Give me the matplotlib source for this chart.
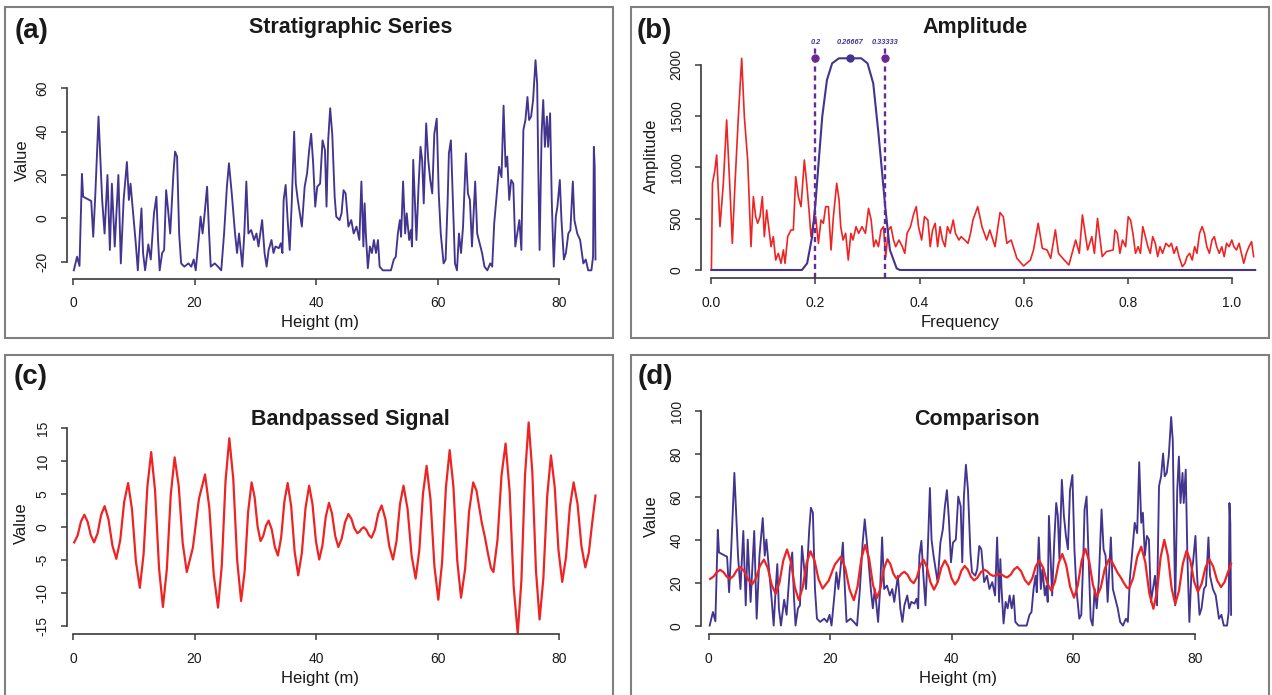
import matplotlib
matplotlib.use('Agg')
import matplotlib.pyplot as plt
from matplotlib.patches import Rectangle

plt.rcParams['font.family'] = ['Liberation Sans', 'DejaVu Sans']
plt.rcParams['axes.unicode_minus'] = False

# ---------------- data ----------------
height_a = [0.13, 0.67, 1.07, 1.47, 1.67, 2.33, 3.0, 3.33, 3.67, 4.2,
            4.8, 5.2, 5.67, 6.07, 6.4, 6.87, 7.47, 7.87, 8.33, 8.87,
            9.2, 9.47, 10.0, 10.33, 10.67, 11.0, 11.27, 11.53, 11.87, 12.4,
            12.8, 13.33, 13.73, 14.0, 14.27, 14.67, 15.0, 15.33, 15.6, 16.0,
            16.53, 16.8, 17.13, 17.47, 17.8, 18.33, 19.0, 19.47, 19.87, 20.2,
            20.67, 21.0, 21.33, 21.67, 22.07, 22.4, 22.67, 23.33, 23.87, 24.4,
            24.87, 25.33, 25.67, 26.13, 26.67, 27.0, 27.33, 27.87, 28.2, 28.53,
            28.87, 29.33, 29.8, 30.2, 30.53, 31.13, 31.53, 31.87, 32.2, 32.67,
            33.0, 33.33, 33.87, 34.2, 34.47, 34.67, 35.0, 35.33, 35.67, 36.0,
            36.4, 36.67, 37.0, 37.33, 37.67, 38.13, 38.53, 38.87, 39.2, 39.53,
            39.87, 40.2, 40.67, 41.07, 41.47, 41.73, 42.0, 42.33, 42.67, 43.07,
            43.33, 43.87, 44.2, 44.53, 44.87, 45.33, 45.8, 46.2, 46.67, 47.13,
            47.47, 47.8, 48.0, 48.2, 48.53, 48.87, 49.2, 49.53, 49.87, 50.2,
            50.47, 51.0, 51.67, 52.33, 52.8, 53.13, 53.47, 53.8, 54.0, 54.33,
            54.67, 54.93, 55.33, 55.6, 55.8, 56.0, 56.27, 56.53, 56.87, 57.2,
            57.47, 57.73, 58.13, 58.47, 58.8, 59.13, 59.47, 59.87, 60.2, 60.53,
            61.0, 61.33, 61.67, 61.87, 62.2, 62.53, 62.87, 63.2, 63.53, 63.87,
            64.2, 64.67, 65.0, 65.33, 65.67, 66.2, 66.53, 66.93, 67.33, 67.73,
            68.2, 68.67, 69.0, 69.33, 69.67, 70.13, 70.53, 70.87, 71.2, 71.47,
            71.8, 72.13, 72.47, 72.8, 73.13, 73.47, 73.8, 74.13, 74.47, 74.8,
            75.07, 75.4, 75.73, 76.13, 76.4, 76.6, 76.8, 77.13, 77.4, 77.67,
            78.0, 78.2, 78.53, 78.8, 79.13, 79.47, 79.73, 80.13, 80.4, 80.8,
            81.13, 81.53, 81.87, 82.27, 82.53, 83.0, 83.47, 84.0, 84.4, 84.8,
            85.33, 85.6, 85.73, 85.87, 86.0]
value_a = [-24, -17.7, -22, 20.5, 10, 9, 8, -8.5, 10.8, 47,
           8.5, -7, 20, -14.6, 16, -13, 20, -20.8, 8.5, 26,
           8.5, 16, -1, -11.5, -24, -7, 4.6, -16, -24, -12,
           -19, 2.3, 10, -10, -24, -16, -14.6, 13, 5.4, -7,
           20.8, 30.8, 28.5, -7, -20.8, -22.3, -20.8, -22.3, -19, -24,
           -10, 0.8, -7, 2.3, 14.6, -7, -22.3, -20.8, -22.3, -24,
           -7, 14.6, 25.4, 11.5, -7, -16, -7, -22.3, -7, 17,
           -7, -5.4, -10, -7, -13, -0.8, -16, -22.3, -14.6, -10,
           -16, -13, -13.8, -11.5, -16, 8.5, 15.4, -0.8, -14.6, 6.9,
           40, 16, 8.5, 2.3, -3.8, 14.6, 20.8, 31.5, 39, 25.4,
           5.4, 14.6, 16, 36, 31.5, 5.4, 36, 50.8, 39, 10,
           0.8, -0.8, 2.3, 13, 11.5, -3.8, -0.8, -7, -3.8, -10,
           17, -13, 6.9, -7, -23, -13, -16, -10, -16, -10,
           -22.3, -24, -24, -24, -19, -17.7, -7, -0.8, -8.5, 17,
           -7, 2.3, -10, -5.4, -13, 27, 8.5, -10, 14.6, 33,
           27, 6.9, 43.8, 27, 17.7, 11.5, 39, 46, 11.5, -7,
           -20.8, -19, 8.5, 30, 36, 8.5, -20.8, -24, -7, -16,
           -3.8, 30, 11.5, 8.5, -13, 17, -7, -11.5, -16, -22.3,
           -24, -20.8, -22.3, -2.3, 8.5, 23.8, 19, 52, 23.8, 28.5,
           8.5, 17.7, 16, -13, -7, -0.8, -14.6, 40.8, 45.4, 56,
           45.4, 47, 54.6, 73, 62, 20.8, -14.6, 39, 54.6, 33,
           47, 33, 48.5, 8.5, -22.3, 0.8, 5.4, 17.7, -0.8, -19,
           -16, -7, -5.4, 17, -0.8, -7, -10, -20.8, -19, -24,
           -24, -17.7, 33, 23.8, -19]

freq_b = [0.0, 0.002, 0.006, 0.0101, 0.0165, 0.0229, 0.0293, 0.0357, 0.0402, 0.0454,
          0.0518, 0.0582, 0.0633, 0.0697, 0.0761, 0.0806, 0.0851, 0.0889, 0.0934, 0.0979,
          0.1017, 0.1062, 0.1107, 0.1146, 0.1190, 0.1235, 0.1286, 0.1338, 0.1383, 0.1415,
          0.1466, 0.1530, 0.1575, 0.1620, 0.1671, 0.1722, 0.1786, 0.1831, 0.1876, 0.1914,
          0.1959, 0.2004, 0.2056, 0.2106, 0.2151, 0.2196, 0.2248, 0.2299, 0.2344, 0.2408,
          0.2453, 0.2485, 0.253, 0.258, 0.263, 0.268, 0.272, 0.278, 0.283, 0.2895,
          0.296, 0.302, 0.307, 0.312, 0.316, 0.321, 0.326, 0.3306, 0.335, 0.340,
          0.345, 0.350, 0.354, 0.3605, 0.367, 0.3716, 0.376, 0.3826, 0.389, 0.3937,
          0.398, 0.404, 0.4095, 0.416, 0.4205, 0.425, 0.430, 0.4347, 0.4394, 0.444,
          0.449, 0.4536, 0.459, 0.4647, 0.469, 0.4757, 0.480, 0.4868, 0.493, 0.498,
          0.5026, 0.5118, 0.520, 0.529, 0.535, 0.545, 0.5546, 0.561, 0.5677, 0.576,
          0.587, 0.600, 0.613, 0.619, 0.628, 0.636, 0.645, 0.652, 0.661, 0.667,
          0.678, 0.687, 0.700, 0.707, 0.713, 0.723, 0.731, 0.736, 0.742, 0.751,
          0.759, 0.772, 0.7755, 0.780, 0.785, 0.790, 0.796, 0.801, 0.8055, 0.810,
          0.815, 0.820, 0.8245, 0.829, 0.834, 0.8387, 0.8434, 0.848, 0.853, 0.8576,
          0.862, 0.867, 0.8734, 0.8797, 0.884, 0.889, 0.894, 0.8986, 0.905, 0.910,
          0.914, 0.919, 0.924, 0.9286, 0.933, 0.938, 0.943, 0.9475, 0.952, 0.957,
          0.962, 0.9665, 0.971, 0.976, 0.9807, 0.9854, 0.990, 0.995, 1.000, 1.004,
          1.009, 1.014, 1.0185, 1.023, 1.028, 1.033, 1.038, 1.042]
amp_b = [0, 844, 950, 1120, 422, 844, 1461, 779, 260, 844,
         1494, 2062, 1494, 1071, 227, 714, 519, 455, 519, 714,
         325, 584, 390, 227, 325, 97, 162, 65, 195, 65,
         325, 390, 390, 909, 714, 617, 1071, 844, 584, 325,
         455, 519, 260, 487, 455, 617, 617, 195, 519, 844,
         682, 422, 292, 357, 97, 357, 292, 422, 357, 422,
         357, 600, 487, 227, 292, 227, 390, 422, 130, 390,
         422, 292, 227, 292, 227, 162, 357, 422, 552, 617,
         422, 292, 519, 487, 227, 390, 455, 227, 422, 292,
         227, 422, 357, 487, 357, 292, 325, 292, 260, 357,
         487, 617, 420, 292, 390, 227, 559, 519, 260, 292,
         114, 39, 97, 195, 455, 211, 195, 114, 390, 162,
         97, 49, 292, 162, 536, 195, 325, 162, 503, 130,
         179, 195, 390, 357, 162, 292, 227, 519, 487, 357,
         162, 227, 162, 422, 325, 227, 162, 325, 260, 130,
         227, 162, 260, 227, 260, 162, 227, 130, 32, 65,
         130, 162, 97, 227, 162, 357, 422, 357, 227, 162,
         292, 325, 227, 162, 227, 130, 260, 227, 292, 227,
         195, 260, 162, 65, 162, 227, 276, 130]

filt_freq = [0.0, 0.174, 0.184, 0.1935, 0.2, 0.2064, 0.213, 0.222, 0.232, 0.245,
             0.288, 0.30, 0.311, 0.321, 0.327, 0.334, 0.343, 0.356, 0.362, 1.045]
filt_amp = [0, 0, 65, 324, 650, 1071, 1493, 1850, 2013, 2062,
            2062, 2013, 1818, 1331, 1006, 617, 195, 16, 0, 0]

band_freqs = [0.2, 0.26667, 0.33333]
band_labels = ['0.2', '0.26667', '0.33333']
band_top = 2062

height_c = [0.2, 0.76, 1.31, 1.87, 2.4, 2.94, 3.47, 4.05, 4.62, 5.2,
            5.84, 6.49, 7.13, 7.78, 8.42, 9.07, 9.71, 10.36, 11.0, 11.62,
            12.25, 12.87, 13.51, 14.16, 14.8, 15.44, 16.09, 16.73, 17.4, 18.06,
            18.73, 19.73, 20.73, 21.73, 22.44, 23.16, 23.87, 24.49, 25.11, 25.73,
            26.38, 27.02, 27.67, 28.25, 28.82, 29.4, 29.89, 30.38, 30.87, 31.31,
            31.76, 32.2, 32.71, 33.22, 33.73, 34.26, 34.8, 35.33, 35.91, 36.49,
            37.07, 37.67, 38.27, 38.87, 39.42, 39.98, 40.53, 41.06, 41.6, 42.13,
            42.64, 43.16, 43.67, 44.22, 44.78, 45.33, 45.82, 46.31, 46.8, 47.16,
            47.51, 47.87, 48.29, 48.71, 49.13, 49.69, 50.24, 50.8, 51.42, 52.05,
            52.67, 53.25, 53.82, 54.4, 55.07, 55.73, 56.4, 57.0, 57.6, 58.2,
            58.84, 59.49, 60.13, 60.75, 61.38, 62.0, 62.62, 63.25, 63.87, 64.54,
            65.2, 65.87, 66.4, 66.9, 67.3, 67.8, 68.3, 68.8, 69.2, 69.87,
            70.53, 71.2, 71.87, 72.53, 73.2, 73.8, 74.4, 75.0, 75.6, 76.2,
            76.8, 77.42, 78.05, 78.67, 79.29, 79.91, 80.53, 81.15, 81.78, 82.4,
            83.04, 83.69, 84.33, 84.9, 85.45, 86.0]
value_c = [-2.3, -1.25, 0.85, 1.9, 0.85, -1.25, -2.3, -0.93, 1.83, 3.2,
           1.2, -2.8, -4.8, -1.93, 3.83, 6.7, 2.73, -5.23, -9.2, -4.05,
           6.25, 11.4, 5.53, -6.23, -12.1, -6.43, 4.93, 10.6, 6.25, -2.45,
           -6.8, -3.1, 4.3, 8.0, 2.95, -7.15, -12.2, -5.78, 7.08, 13.5,
           7.33, -5.03, -11.2, -6.7, 2.3, 6.8, 4.58, 0.13, -2.1, -1.33,
           0.23, 1.0, -0.33, -2.98, -4.3, -1.55, 3.95, 6.7, 3.2, -3.8,
           -7.3, -3.9, 2.9, 6.3, 3.5, -2.1, -4.9, -2.75, 1.55, 3.7,
           2.03, -1.33, -3.0, -1.75, 0.75, 2.0, 1.28, -0.18, -0.9, -0.68,
           -0.23, 0.0, -0.4, -1.2, -1.6, -0.38, 2.08, 3.3, 1.25, -2.85,
           -4.9, -2.1, 3.5, 6.3, 2.78, -4.28, -7.8, -3.53, 5.03, 9.3,
           4.23, -5.93, -11.0, -5.33, 6.03, 11.7, 6.1, -5.1, -10.7, -6.33,
           2.43, 6.8, 5.6, 2.8, 0.6, -1.5, -4.0, -6.2, -6.8, -1.93,
           7.83, 12.7, 5.48, -8.98, -16.2, -8.18, 7.88, 15.9, 8.43, -6.53,
           -14.0, -7.78, 4.68, 10.9, 6.1, -3.5, -8.3, -4.53, 3.03, 6.8,
           3.58, -2.88, -6.1, -3.9, 0.6, 4.8]

comparison_offset = 24.2   # panel (d) shows both series shifted to start at zero

# ---------------- styling ----------------
BLUE = '#43358f'
RED = '#ee2424'
PURPLE = '#6a2a96'
AXC = '#3a3a3a'
TXT = '#1a1a1a'

W, H = 1272, 695
fig = plt.figure(figsize=(W / 100, H / 100), dpi=100)


def ax_px(l, t, r, b):
    return fig.add_axes([l / W, 1 - b / H, (r - l) / W, (b - t) / H])


def ftext(x, y, s, **kw):
    fig.text(x / W, 1 - y / H, s, ha='center', va='center', color=TXT, **kw)


def box(l, t, r, b):
    fig.add_artist(Rectangle((l / W, 1 - b / H), (r - l) / W, (b - t) / H,
                             transform=fig.transFigure, fill=False,
                             ec='#7f7f7f', lw=1.5))


def style(ax, xb, yb, xt, yt, xtl, ytl):
    for s in ['top', 'right']:
        ax.spines[s].set_visible(False)
    ax.spines['bottom'].set_bounds(*xb)
    ax.spines['left'].set_bounds(*yb)
    for s in ['bottom', 'left']:
        ax.spines[s].set_color(AXC)
        ax.spines[s].set_linewidth(1.2)
    ax.set_xticks(xt)
    ax.set_xticklabels(xtl)
    ax.set_yticks(yt)
    ax.set_yticklabels(ytl, rotation=90, va='center')
    ax.tick_params(direction='out', length=4.5, width=1.1, color=AXC,
                   labelsize=10, labelcolor=TXT, pad=8)
    ax.patch.set_alpha(0)


hx = [0, 20, 40, 60, 80]
hxl = ['0', '20', '40', '60', '80']

# panel boxes
box(5, 7, 613, 338)
box(631, 7, 1269, 338)
box(5, 355, 613, 710)
box(631, 355, 1269, 710)

# (a) Stratigraphic series
ax1 = ax_px(67, 50, 604.6, 279)
ax1.plot(height_a, value_a, color=BLUE, lw=1.35, solid_joinstyle='round')
ax1.set_xlim(-0.988, 87.5)
ax1.set_ylim(-28.0, 77.7)
style(ax1, (0, 80), (-20, 60), hx, [-20, 0, 20, 40, 60], hxl,
      ['-20', '0', '20', '40', '60'])
ftext(31.5, 30.5, '(a)', fontsize=20, fontweight='bold')
ftext(351, 28, 'Stratigraphic Series', fontsize=15.5, fontweight='bold')
ftext(320, 323, 'Height (m)', fontsize=12)
ftext(22.7, 160, 'Value', fontsize=12, rotation=90)

# (b) Amplitude
ax2 = ax_px(701, 46.7, 1263, 278.3)
ax2.plot(freq_b, amp_b, color=RED, lw=1.2, solid_joinstyle='round')
ax2.plot(filt_freq, filt_amp, color=BLUE, lw=1.5)
for f in (band_freqs[0], band_freqs[2]):
    ax2.axvline(f, color=PURPLE, lw=1.7, linestyle=(0, (2.2, 1.6)))
    ax2.plot([f], [band_top], 'o', color=PURPLE, ms=5)
ax2.plot([band_freqs[1]], [band_top], 'o', color=BLUE, ms=5)
for f, lab in zip(band_freqs, band_labels):
    ax2.text(f, 2214, lab, fontsize=5.3, fontweight='bold', fontstyle='italic',
             color=BLUE, ha='center', va='center', clip_on=False)
ax2.set_xlim(-0.020, 1.060)
ax2.set_ylim(-81, 2175)
style(ax2, (0, 1.0), (0, 2000), [0, 0.2, 0.4, 0.6, 0.8, 1.0],
      [0, 500, 1000, 1500, 2000], ['0.0', '0.2', '0.4', '0.6', '0.8', '1.0'],
      ['0', '500', '1000', '1500', '2000'])
ftext(654.7, 30.5, '(b)', fontsize=20, fontweight='bold')
ftext(975, 28, 'Amplitude', fontsize=15.5, fontweight='bold')
ftext(960, 322, 'Frequency', fontsize=12)
ftext(651.6, 156, 'Amplitude', fontsize=12, rotation=90)

# (c) Bandpassed signal
ax3 = ax_px(67, 419.8, 604.6, 634.3)
ax3.plot(height_c, value_c, color=RED, lw=1.6, solid_joinstyle='round')
ax3.set_xlim(-0.988, 87.5)
ax3.set_ylim(-16.25, 16.3)
style(ax3, (0, 80), (-15, 15), hx, [-15, -10, -5, 0, 5, 10, 15], hxl,
      ['-15', '-10', '-5', '0', '5', '10', '15'])
ftext(31, 377, '(c)', fontsize=20, fontweight='bold')
ftext(350.5, 419, 'Bandpassed Signal', fontsize=15.5, fontweight='bold')
ftext(320, 678, 'Height (m)', fontsize=12)
ftext(21.7, 523, 'Value', fontsize=12, rotation=90)

# (d) Comparison
ax4 = ax_px(701.1, 406.7, 1240.2, 634.3)
ax4.plot(height_a, [v + comparison_offset for v in value_a], color=BLUE,
         lw=1.35, solid_joinstyle='round')
ax4.plot(height_c, [v + comparison_offset for v in value_c], color=RED,
         lw=1.6, solid_joinstyle='round')
ax4.set_xlim(-1.28, 87.5)
ax4.set_ylim(-3.86, 102)
style(ax4, (0, 80), (0, 100), hx, [0, 20, 40, 60, 80, 100], hxl,
      ['0', '20', '40', '60', '80', '100'])
ftext(655, 377, '(d)', fontsize=20, fontweight='bold')
ftext(977, 419, 'Comparison', fontsize=15.5, fontweight='bold')
ftext(957.6, 678, 'Height (m)', fontsize=12)
ftext(651.6, 516, 'Value', fontsize=12, rotation=90)

fig.savefig('out.png', dpi=100)
